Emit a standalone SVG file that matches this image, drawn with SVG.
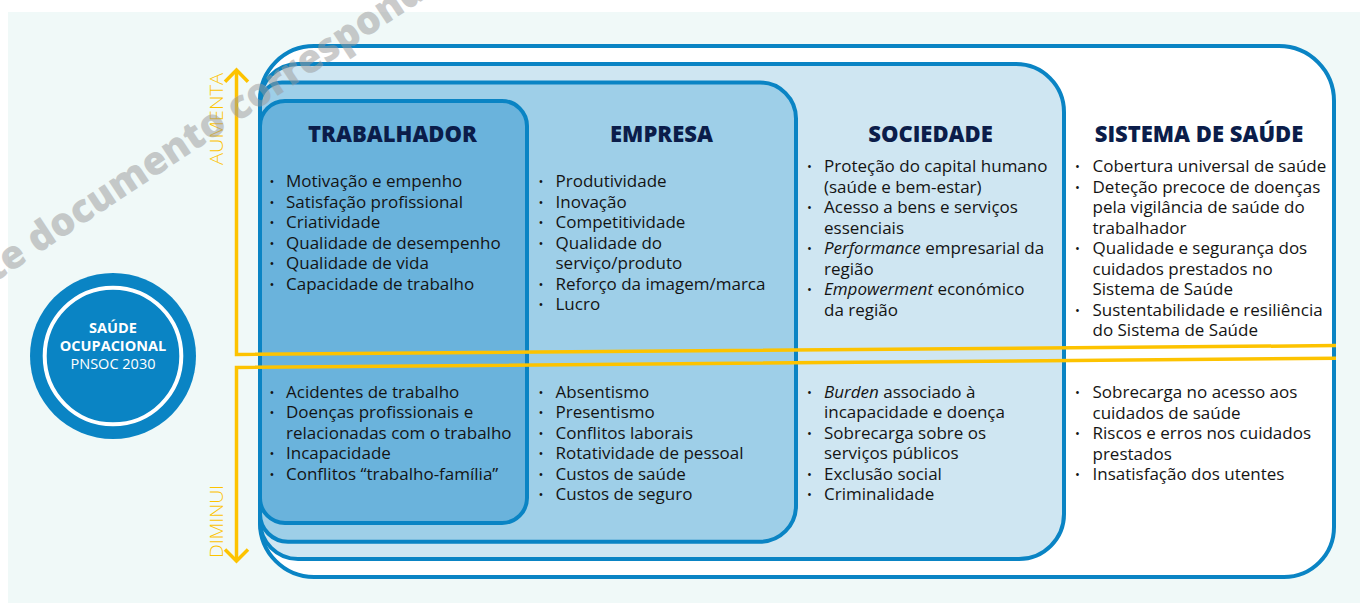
<svg xmlns="http://www.w3.org/2000/svg" width="1360" height="603" viewBox="0 0 1360 603">
<style>
.box{stroke:#0a84c4;stroke-width:4}
.hd{font-family:"Open Sans","Liberation Sans",sans-serif;font-weight:800;font-size:22px;fill:#0b1d4a;text-anchor:middle}
.tx{font-family:"Open Sans","Liberation Sans",sans-serif;font-size:17px;fill:#141414}
.bu{font-family:"Open Sans","Liberation Sans",sans-serif;font-size:13px;fill:#141414;text-anchor:middle}
.it{font-style:italic}
.yl{fill:none;stroke:#fdc300;stroke-width:3.5;stroke-linejoin:miter}
.lab{font-family:"Open Sans","Liberation Sans",sans-serif;font-weight:300;font-size:19px;fill:#fdc300}
.ct{font-family:"Open Sans","Liberation Sans",sans-serif;font-size:14.5px;fill:#ffffff;text-anchor:middle}
.wm{font-family:"Open Sans","Liberation Sans",sans-serif;font-weight:800;font-size:39px;fill:#999999;opacity:0.5}
</style>
<rect id="background" x="8" y="12" width="1352" height="591" fill="#f0f9f8"/>

<g id="sistema-de-saude">
<path class="box" fill="#ffffff" d="M314,46 H1279 A55,55 0 0 1 1334,101 V527 A50,50 0 0 1 1284,577 H314 A54,54 0 0 1 260,523 V100 A54,54 0 0 1 314,46 Z"/>
<text class="hd" x="1199" y="141.5">SISTEMA DE SAÚDE</text>
<text class="bu" x="1077.5" y="171">•</text>
<text class="bu" x="1077.5" y="191.5">•</text>
<text class="bu" x="1077.5" y="253">•</text>
<text class="bu" x="1077.5" y="314.5">•</text>
<text class="tx" x="1092.5" y="172">Cobertura universal de saúde</text>
<text class="tx" x="1092.5" y="192.5">Deteção precoce de doenças</text>
<text class="tx" x="1092.5" y="213">pela vigilância de saúde do</text>
<text class="tx" x="1092.5" y="233.5">trabalhador</text>
<text class="tx" x="1092.5" y="254">Qualidade e segurança dos</text>
<text class="tx" x="1092.5" y="274.5">cuidados prestados no</text>
<text class="tx" x="1092.5" y="295">Sistema de Saúde</text>
<text class="tx" x="1092.5" y="315.5">Sustentabilidade e resiliência</text>
<text class="tx" x="1092.5" y="336">do Sistema de Saúde</text>
<text class="bu" x="1077.5" y="397">•</text>
<text class="bu" x="1077.5" y="438">•</text>
<text class="bu" x="1077.5" y="479">•</text>
<text class="tx" x="1092.5" y="398">Sobrecarga no acesso aos</text>
<text class="tx" x="1092.5" y="418.5">cuidados de saúde</text>
<text class="tx" x="1092.5" y="439">Riscos e erros nos cuidados</text>
<text class="tx" x="1092.5" y="459.5">prestados</text>
<text class="tx" x="1092.5" y="480">Insatisfação dos utentes</text>
</g>

<g id="sociedade">
<path class="box" fill="#cfe6f2" d="M298,64 H1016 A48,48 0 0 1 1064,112 V514 A45,45 0 0 1 1019,559 H298 A38,38 0 0 1 260,521 V102 A38,38 0 0 1 298,64 Z"/>
<text class="hd" x="930.5" y="141.5">SOCIEDADE</text>
<text class="bu" x="809.5" y="171">•</text>
<text class="bu" x="809.5" y="212">•</text>
<text class="bu" x="809.5" y="253">•</text>
<text class="bu" x="809.5" y="294">•</text>
<text class="tx" x="824" y="172">Proteção do capital humano</text>
<text class="tx" x="824" y="192.5">(saúde e bem-estar)</text>
<text class="tx" x="824" y="213">Acesso a bens e serviços</text>
<text class="tx" x="824" y="233.5">essenciais</text>
<text class="tx" x="824" y="254"><tspan class="it">Performance</tspan> empresarial da</text>
<text class="tx" x="824" y="274.5">região</text>
<text class="tx" x="824" y="295"><tspan class="it">Empowerment</tspan> económico</text>
<text class="tx" x="824" y="315.5">da região</text>
<text class="bu" x="809.5" y="396.5">•</text>
<text class="bu" x="809.5" y="437.5">•</text>
<text class="bu" x="809.5" y="478.5">•</text>
<text class="bu" x="809.5" y="499">•</text>
<text class="tx" x="824" y="397.5"><tspan class="it">Burden</tspan> associado à</text>
<text class="tx" x="824" y="418">incapacidade e doença</text>
<text class="tx" x="824" y="438.5">Sobrecarga sobre os</text>
<text class="tx" x="824" y="459">serviços públicos</text>
<text class="tx" x="824" y="479.5">Exclusão social</text>
<text class="tx" x="824" y="500">Criminalidade</text>
</g>

<g id="empresa">
<path class="box" fill="#9ecfe8" d="M282,82.5 H760 A36,36 0 0 1 796,118.5 V505.7 A36,36 0 0 1 760,541.7 H288 A28,28 0 0 1 260,513.7 V104.5 A22,22 0 0 1 282,82.5 Z"/>
<text class="hd" x="661.5" y="141.5">EMPRESA</text>
<text class="bu" x="541" y="186">•</text>
<text class="bu" x="541" y="206.5">•</text>
<text class="bu" x="541" y="227">•</text>
<text class="bu" x="541" y="247.5">•</text>
<text class="bu" x="541" y="288.5">•</text>
<text class="bu" x="541" y="309">•</text>
<text class="tx" x="555.5" y="187">Produtividade</text>
<text class="tx" x="555.5" y="207.5">Inovação</text>
<text class="tx" x="555.5" y="228">Competitividade</text>
<text class="tx" x="555.5" y="248.5">Qualidade do</text>
<text class="tx" x="555.5" y="269">serviço/produto</text>
<text class="tx" x="555.5" y="289.5">Reforço da imagem/marca</text>
<text class="tx" x="555.5" y="310">Lucro</text>
<text class="bu" x="541" y="396.5">•</text>
<text class="bu" x="541" y="417">•</text>
<text class="bu" x="541" y="437.5">•</text>
<text class="bu" x="541" y="458">•</text>
<text class="bu" x="541" y="478.5">•</text>
<text class="bu" x="541" y="499">•</text>
<text class="tx" x="555.5" y="397.5">Absentismo</text>
<text class="tx" x="555.5" y="418">Presentismo</text>
<text class="tx" x="555.5" y="438.5">Conflitos laborais</text>
<text class="tx" x="555.5" y="459">Rotatividade de pessoal</text>
<text class="tx" x="555.5" y="479.5">Custos de saúde</text>
<text class="tx" x="555.5" y="500">Custos de seguro</text>
</g>

<g id="trabalhador">
<path class="box" fill="#6ab3dc" d="M285,101 H502 A25,25 0 0 1 527,126 V498 A25,25 0 0 1 502,523 H285 A25,25 0 0 1 260,498 V126 A25,25 0 0 1 285,101 Z"/>
<text class="hd" x="392.5" y="141.5">TRABALHADOR</text>
<text class="bu" x="272" y="186">•</text>
<text class="bu" x="272" y="206.5">•</text>
<text class="bu" x="272" y="227">•</text>
<text class="bu" x="272" y="247.5">•</text>
<text class="bu" x="272" y="268">•</text>
<text class="bu" x="272" y="288.5">•</text>
<text class="tx" x="286" y="187">Motivação e empenho</text>
<text class="tx" x="286" y="207.5">Satisfação profissional</text>
<text class="tx" x="286" y="228">Criatividade</text>
<text class="tx" x="286" y="248.5">Qualidade de desempenho</text>
<text class="tx" x="286" y="269">Qualidade de vida</text>
<text class="tx" x="286" y="289.5">Capacidade de trabalho</text>
<text class="bu" x="272" y="396.5">•</text>
<text class="bu" x="272" y="417">•</text>
<text class="bu" x="272" y="458">•</text>
<text class="bu" x="272" y="478.5">•</text>
<text class="tx" x="286" y="397.5">Acidentes de trabalho</text>
<text class="tx" x="286" y="418">Doenças profissionais e</text>
<text class="tx" x="286" y="438.5">relacionadas com o trabalho</text>
<text class="tx" x="286" y="459">Incapacidade</text>
<text class="tx" x="286" y="479.5">Conflitos “trabalho-família”</text>
</g>

<g id="connectors">
<path class="yl" d="M236.5,70 V354.5 L1336,345.6"/>
<path class="yl" d="M225,81.7 L236.5,70 L248,81.7"/>
<path class="yl" d="M1336,358.3 L236.5,367.5 V561"/>
<path class="yl" d="M225,549.5 L236.5,561 L248,549.5"/>
<text class="lab" transform="translate(222.5,165) rotate(-90)" textLength="92" lengthAdjust="spacingAndGlyphs">AUMENTA</text>
<text class="lab" transform="translate(222.5,558) rotate(-90)" textLength="73" lengthAdjust="spacingAndGlyphs">DIMINUI</text>
</g>

<g id="saude-ocupacional">
<circle cx="113" cy="356" r="83" fill="#0a84c4"/>
<circle cx="113" cy="356" r="68.3" fill="none" stroke="#ffffff" stroke-width="4"/>
<text class="ct" x="113" y="333.3" font-weight="700">SAÚDE</text>
<text class="ct" x="113" y="351" font-weight="700">OCUPACIONAL</text>
<text class="ct" x="113" y="369">PNSOC 2030</text>
</g>

<text class="wm" transform="translate(-6,283) rotate(-33.4)">te documento corresponde</text>
</svg>
